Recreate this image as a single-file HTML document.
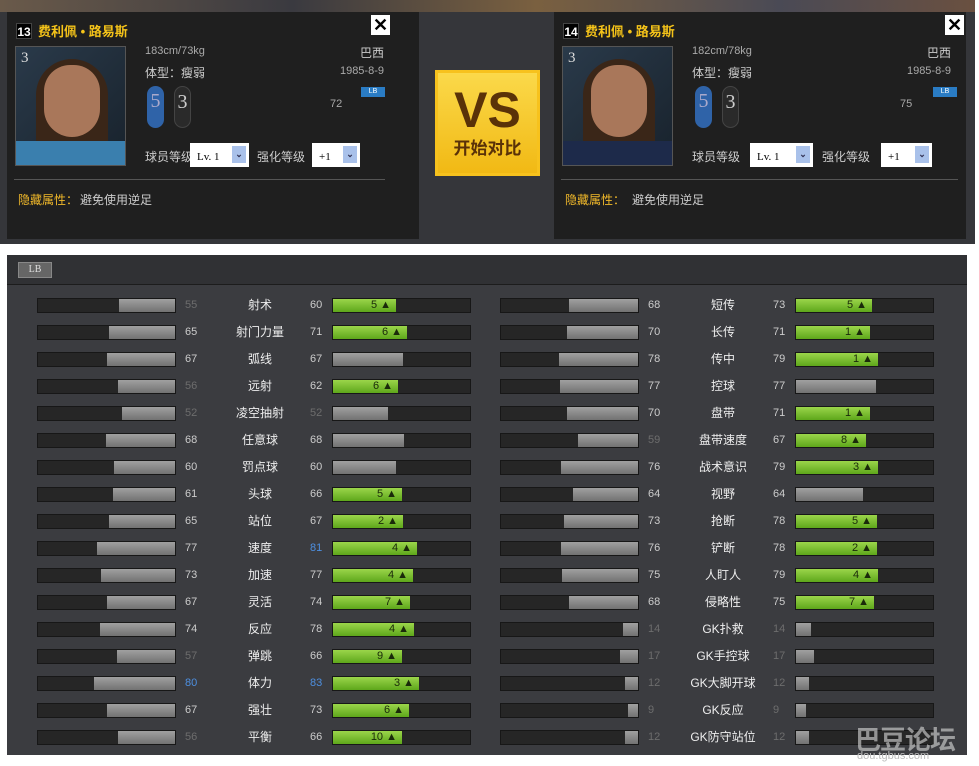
<!DOCTYPE html>
<html><head><meta charset="utf-8"><style>
*{margin:0;padding:0;box-sizing:border-box}
body{width:979px;height:766px;background:#fff;position:relative;overflow:hidden;font-family:"Liberation Sans","Noto Sans CJK SC",sans-serif;font-size:12px}
.top{position:absolute;left:0;top:0;width:975px;height:244px;background:#35363a}
.strip{position:absolute;left:0;top:0;width:975px;height:12px;background:linear-gradient(90deg,#6a5a4a,#3a3a40 30%,#7a6040 55%,#4a4a55 80%,#6a5040)}
.card{position:absolute;top:12px;width:412px;height:227px;background:#1f1f1f}
.card *{position:absolute}
.num{left:9px;top:11px;width:16px;height:16px;background:#000;color:#fff;font-weight:bold;font-size:12px;text-align:center;line-height:16px;border:1px solid #444}
.nm{left:31px;top:9px;color:#f6c419;font-weight:bold;font-size:13px}
.x{top:3px;width:19px;height:20px;background:#fff;color:#000;font-size:18px;text-align:center;line-height:20px;font-weight:bold}
.ph{left:8px;top:34px;width:111px;height:120px;background:linear-gradient(135deg,#2a3a4a,#18222c);border:1px solid #555}
.ph .f{left:28px;top:18px;width:56px;height:72px;border-radius:28px 28px 30px 30px;background:#a9775a}
.ph .h{left:20px;top:12px;width:72px;height:98px;border-radius:36px 36px 10px 10px;background:#3a2618}
.ph .s{left:0;bottom:0;width:109px;height:24px;background:#3a7fae}
.ph .n{left:5px;top:3px;color:#ddd;font-size:15px;font-family:"Liberation Serif",serif}
.g{color:#aaa;font-size:11px}
.w{color:#ccc;font-size:12px}
.foot{width:17px;height:42px;border-radius:9px;top:74px;text-align:center;font-size:20px;font-family:"Liberation Serif",serif;line-height:30px}
.sel{top:131px;height:24px;background:#fff;color:#000;font-size:11px;font-family:"Liberation Serif",serif;line-height:28px;padding-left:7px}
.sel b{right:3px;top:3px;width:14px;height:17px;background:#a9c1ea;color:#335;font-size:9px;text-align:center;line-height:17px}
.hr{left:7px;top:167px;width:371px;height:1px;background:#555}
.vs{position:absolute;left:435px;top:70px;width:105px;height:106px;background:linear-gradient(#fbd94a,#f1b914);border:3px solid #f7c21d;text-align:center;color:#5a3208;font-weight:bold}
.bot{position:absolute;left:7px;top:255px;width:960px;height:500px;background:#3b3c40}
.hd{position:absolute;left:0;top:0;width:960px;height:30px;background:#303134;border-bottom:1px solid #1c1c1c}
.lb{position:absolute;left:11px;top:7px;width:34px;height:16px;background:#666;border:1px solid #888;color:#ddd;font-size:10px;text-align:center;line-height:14px;font-family:"Liberation Serif",serif}
.r{position:absolute;height:15px;width:440px}
.r>*{position:absolute}
.t,.t2{top:0;width:139px;height:15px;background:#262626;border:1px solid #171717}
.t{left:0}.t2{left:295px}
.t i{position:absolute;right:0;top:0;bottom:0;background:linear-gradient(#a0a0a0,#727272)}
.t2 i{position:absolute;left:0;top:0;bottom:0;background:linear-gradient(#a0a0a0,#727272)}
.t2 em{position:absolute;left:0;top:0;bottom:0;background:linear-gradient(#9bd54a,#5ea71b);font-style:normal;color:#1a2a0a;font-size:11px;text-align:right;padding-right:5px;line-height:13px}
.a{left:148px;top:0;color:#ccc;font-size:11px;line-height:15px}
.l{left:183px;width:80px;text-align:center;color:#eee;font-size:12px;line-height:15px;top:0}
.b{left:273px;top:0;color:#ccc;font-size:11px;line-height:15px}
.d{color:#6d6d6d!important}.bl{color:#4d8fe0!important}
</style></head><body>
<div class="top"><div class="strip"></div>
<div class="card" style="left:7px">
<div class="num">13</div><div class="nm">费利佩 • 路易斯</div><div class="x" style="left:364px">✕</div>
<div class="ph"><div class="h"></div><div class="f"></div><div class="s"></div><div class="n">3</div></div>
<div class="g" style="left:138px;top:33px">183cm/73kg</div><div class="w" style="right:35px;top:32px">巴西</div>
<div class="w" style="left:138px;top:52px">体型：瘦弱</div><div class="g" style="right:35px;top:53px">1985-8-9</div>
<div class="g" style="left:323px;top:86px">72</div><div style="left:354px;top:75px;width:24px;height:10px;background:#2a7cc4;color:#fff;font-size:7px;text-align:center;line-height:10px">LB</div>
<div class="foot" style="left:140px;background:#2f63a8;color:#aac">5</div><div class="foot" style="left:167px;background:#2a2a2a;color:#ccc;border:1px solid #444">3</div>
<div class="w" style="left:138px;top:136px">球员等级</div><div class="sel" style="left:183px;width:59px">Lv. 1<b>⌄</b></div>
<div class="w" style="left:250px;top:136px">强化等级</div><div class="sel" style="left:305px;width:48px">+1<b>⌄</b></div>
<div class="hr"></div>
<div style="left:11px;top:179px;color:#f0b82a">隐藏属性：</div><div class="w" style="left:73px;top:179px">避免使用逆足</div>
</div>
<div class="vs"><div style="font-size:50px;line-height:58px;margin-top:8px;font-family:'Liberation Sans',sans-serif">VS</div><div style="font-size:17px;line-height:20px">开始对比</div></div>
<div class="card" style="left:554px">
<div class="num">14</div><div class="nm">费利佩 • 路易斯</div><div class="x" style="left:391px">✕</div>
<div class="ph"><div class="h"></div><div class="f"></div><div class="s" style="background:#1d2a4a"></div><div class="n">3</div></div>
<div class="g" style="left:138px;top:33px">182cm/78kg</div><div class="w" style="right:15px;top:32px">巴西</div>
<div class="w" style="left:138px;top:52px">体型：瘦弱</div><div class="g" style="right:15px;top:53px">1985-8-9</div>
<div class="g" style="left:346px;top:86px">75</div><div style="left:379px;top:75px;width:24px;height:10px;background:#2a7cc4;color:#fff;font-size:7px;text-align:center;line-height:10px">LB</div>
<div class="foot" style="left:141px;background:#2f63a8;color:#aac">5</div><div class="foot" style="left:168px;background:#2a2a2a;color:#ccc;border:1px solid #444">3</div>
<div class="w" style="left:138px;top:136px">球员等级</div><div class="sel" style="left:196px;width:63px">Lv. 1<b>⌄</b></div>
<div class="w" style="left:268px;top:136px">强化等级</div><div class="sel" style="left:327px;width:51px">+1<b>⌄</b></div>
<div class="hr" style="width:397px"></div>
<div style="left:11px;top:179px;color:#f0b82a">隐藏属性：</div><div class="w" style="left:78px;top:179px">避免使用逆足</div>
</div>
</div>
<div class="bot"><div class="hd"><div class="lb">LB</div></div></div>

<div class="r" style="left:37px;top:298px"><div class="t"><i style="width:56px"></i></div><span class="a d">55</span><span class="l">射术</span><span class="b">60</span><div class="t2"><em style="width:63px">5 ▲</em></div></div>
<div class="r" style="left:37px;top:325px"><div class="t"><i style="width:66px"></i></div><span class="a">65</span><span class="l">射门力量</span><span class="b">71</span><div class="t2"><em style="width:74px">6 ▲</em></div></div>
<div class="r" style="left:37px;top:352px"><div class="t"><i style="width:68px"></i></div><span class="a">67</span><span class="l">弧线</span><span class="b">67</span><div class="t2"><i style="width:70px"></i></div></div>
<div class="r" style="left:37px;top:379px"><div class="t"><i style="width:57px"></i></div><span class="a d">56</span><span class="l">远射</span><span class="b">62</span><div class="t2"><em style="width:65px">6 ▲</em></div></div>
<div class="r" style="left:37px;top:406px"><div class="t"><i style="width:53px"></i></div><span class="a d">52</span><span class="l">凌空抽射</span><span class="b d">52</span><div class="t2"><i style="width:55px"></i></div></div>
<div class="r" style="left:37px;top:433px"><div class="t"><i style="width:69px"></i></div><span class="a">68</span><span class="l">任意球</span><span class="b">68</span><div class="t2"><i style="width:71px"></i></div></div>
<div class="r" style="left:37px;top:460px"><div class="t"><i style="width:61px"></i></div><span class="a">60</span><span class="l">罚点球</span><span class="b">60</span><div class="t2"><i style="width:63px"></i></div></div>
<div class="r" style="left:37px;top:487px"><div class="t"><i style="width:62px"></i></div><span class="a">61</span><span class="l">头球</span><span class="b">66</span><div class="t2"><em style="width:69px">5 ▲</em></div></div>
<div class="r" style="left:37px;top:514px"><div class="t"><i style="width:66px"></i></div><span class="a">65</span><span class="l">站位</span><span class="b">67</span><div class="t2"><em style="width:70px">2 ▲</em></div></div>
<div class="r" style="left:37px;top:541px"><div class="t"><i style="width:78px"></i></div><span class="a">77</span><span class="l">速度</span><span class="b bl">81</span><div class="t2"><em style="width:84px">4 ▲</em></div></div>
<div class="r" style="left:37px;top:568px"><div class="t"><i style="width:74px"></i></div><span class="a">73</span><span class="l">加速</span><span class="b">77</span><div class="t2"><em style="width:80px">4 ▲</em></div></div>
<div class="r" style="left:37px;top:595px"><div class="t"><i style="width:68px"></i></div><span class="a">67</span><span class="l">灵活</span><span class="b">74</span><div class="t2"><em style="width:77px">7 ▲</em></div></div>
<div class="r" style="left:37px;top:622px"><div class="t"><i style="width:75px"></i></div><span class="a">74</span><span class="l">反应</span><span class="b">78</span><div class="t2"><em style="width:81px">4 ▲</em></div></div>
<div class="r" style="left:37px;top:649px"><div class="t"><i style="width:58px"></i></div><span class="a d">57</span><span class="l">弹跳</span><span class="b">66</span><div class="t2"><em style="width:69px">9 ▲</em></div></div>
<div class="r" style="left:37px;top:676px"><div class="t"><i style="width:81px"></i></div><span class="a bl">80</span><span class="l">体力</span><span class="b bl">83</span><div class="t2"><em style="width:86px">3 ▲</em></div></div>
<div class="r" style="left:37px;top:703px"><div class="t"><i style="width:68px"></i></div><span class="a">67</span><span class="l">强壮</span><span class="b">73</span><div class="t2"><em style="width:76px">6 ▲</em></div></div>
<div class="r" style="left:37px;top:730px"><div class="t"><i style="width:57px"></i></div><span class="a d">56</span><span class="l">平衡</span><span class="b">66</span><div class="t2"><em style="width:69px">10 ▲</em></div></div>

<div class="r" style="left:500px;top:298px"><div class="t"><i style="width:69px"></i></div><span class="a">68</span><span class="l">短传</span><span class="b">73</span><div class="t2"><em style="width:76px">5 ▲</em></div></div>
<div class="r" style="left:500px;top:325px"><div class="t"><i style="width:71px"></i></div><span class="a">70</span><span class="l">长传</span><span class="b">71</span><div class="t2"><em style="width:74px">1 ▲</em></div></div>
<div class="r" style="left:500px;top:352px"><div class="t"><i style="width:79px"></i></div><span class="a">78</span><span class="l">传中</span><span class="b">79</span><div class="t2"><em style="width:82px">1 ▲</em></div></div>
<div class="r" style="left:500px;top:379px"><div class="t"><i style="width:78px"></i></div><span class="a">77</span><span class="l">控球</span><span class="b">77</span><div class="t2"><i style="width:80px"></i></div></div>
<div class="r" style="left:500px;top:406px"><div class="t"><i style="width:71px"></i></div><span class="a">70</span><span class="l">盘带</span><span class="b">71</span><div class="t2"><em style="width:74px">1 ▲</em></div></div>
<div class="r" style="left:500px;top:433px"><div class="t"><i style="width:60px"></i></div><span class="a d">59</span><span class="l">盘带速度</span><span class="b">67</span><div class="t2"><em style="width:70px">8 ▲</em></div></div>
<div class="r" style="left:500px;top:460px"><div class="t"><i style="width:77px"></i></div><span class="a">76</span><span class="l">战术意识</span><span class="b">79</span><div class="t2"><em style="width:82px">3 ▲</em></div></div>
<div class="r" style="left:500px;top:487px"><div class="t"><i style="width:65px"></i></div><span class="a">64</span><span class="l">视野</span><span class="b">64</span><div class="t2"><i style="width:67px"></i></div></div>
<div class="r" style="left:500px;top:514px"><div class="t"><i style="width:74px"></i></div><span class="a">73</span><span class="l">抢断</span><span class="b">78</span><div class="t2"><em style="width:81px">5 ▲</em></div></div>
<div class="r" style="left:500px;top:541px"><div class="t"><i style="width:77px"></i></div><span class="a">76</span><span class="l">铲断</span><span class="b">78</span><div class="t2"><em style="width:81px">2 ▲</em></div></div>
<div class="r" style="left:500px;top:568px"><div class="t"><i style="width:76px"></i></div><span class="a">75</span><span class="l">人盯人</span><span class="b">79</span><div class="t2"><em style="width:82px">4 ▲</em></div></div>
<div class="r" style="left:500px;top:595px"><div class="t"><i style="width:69px"></i></div><span class="a">68</span><span class="l">侵略性</span><span class="b">75</span><div class="t2"><em style="width:78px">7 ▲</em></div></div>
<div class="r" style="left:500px;top:622px"><div class="t"><i style="width:15px"></i></div><span class="a d">14</span><span class="l">GK扑救</span><span class="b d">14</span><div class="t2"><i style="width:15px"></i></div></div>
<div class="r" style="left:500px;top:649px"><div class="t"><i style="width:18px"></i></div><span class="a d">17</span><span class="l">GK手控球</span><span class="b d">17</span><div class="t2"><i style="width:18px"></i></div></div>
<div class="r" style="left:500px;top:676px"><div class="t"><i style="width:13px"></i></div><span class="a d">12</span><span class="l">GK大脚开球</span><span class="b d">12</span><div class="t2"><i style="width:13px"></i></div></div>
<div class="r" style="left:500px;top:703px"><div class="t"><i style="width:10px"></i></div><span class="a d">9</span><span class="l">GK反应</span><span class="b d">9</span><div class="t2"><i style="width:10px"></i></div></div>
<div class="r" style="left:500px;top:730px"><div class="t"><i style="width:13px"></i></div><span class="a d">12</span><span class="l">GK防守站位</span><span class="b d">12</span><div class="t2"><i style="width:13px"></i></div></div>

<div style="position:absolute;left:855px;top:720px;color:rgba(220,220,220,.6);font-size:26px;font-weight:bold;letter-spacing:-1px">巴豆论坛</div>
<div style="position:absolute;left:857px;top:750px;color:#bbb;font-size:11px">dou.tgbus.com</div>
</body></html>
